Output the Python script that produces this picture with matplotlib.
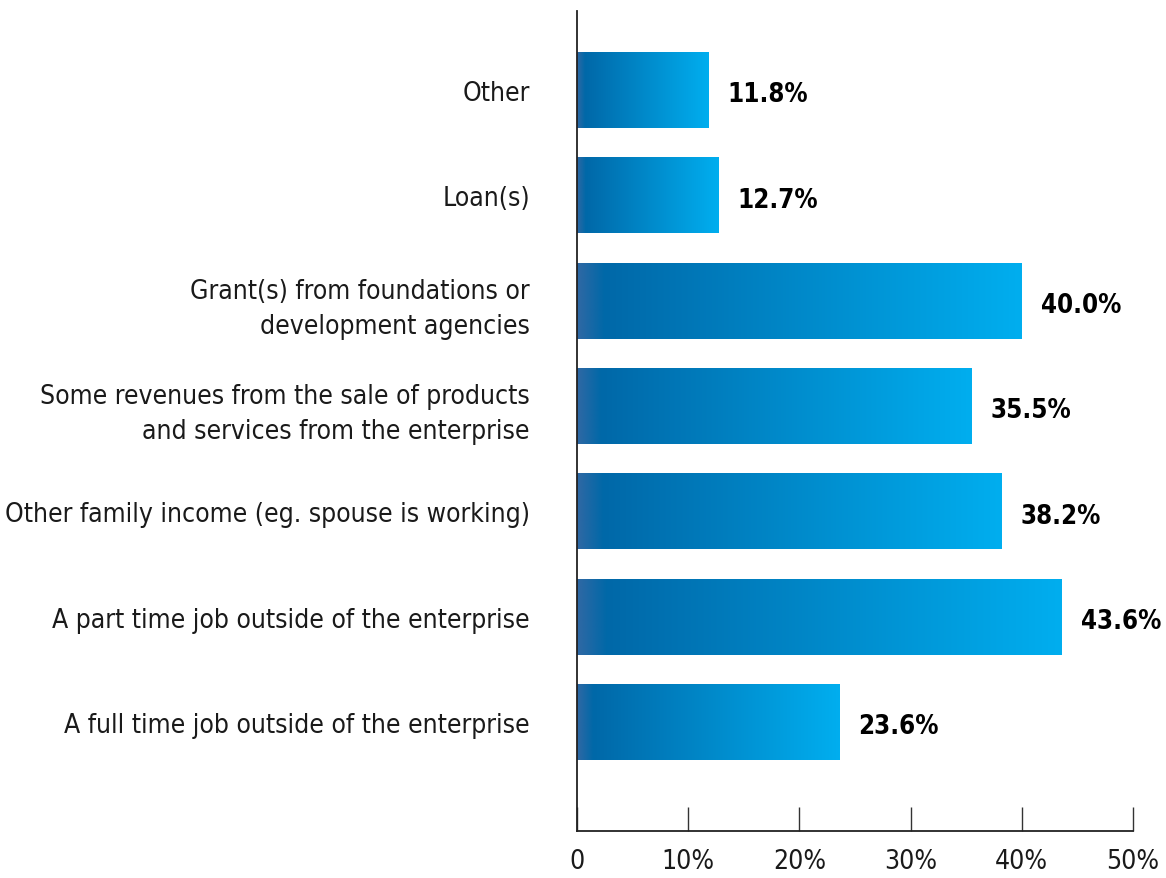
import numpy as np
import matplotlib.pyplot as plt
from matplotlib.colors import LinearSegmentedColormap

# data, bottom to top
labels = ['A full time job outside of the enterprise',
          'A part time job outside of the enterprise',
          'Other family income (eg. spouse is working)',
          'Some revenues from the sale of products\nand services from the enterprise',
          'Grant(s) from foundations or\ndevelopment agencies',
          'Loan(s)',
          'Other']
values = [23.6, 43.6, 38.2, 35.5, 40.0, 12.7, 11.8]
xticks = [0, 10, 20, 30, 40, 50]
xticklabels = ['0', '10%', '20%', '30%', '40%', '50%']

plt.rcParams['font.family'] = ['DejaVu Sans']
plt.rcParams['font.stretch'] = 'condensed'

cmap = LinearSegmentedColormap.from_list(
    'bar', [(0.0, '#2f68a4'), (0.06, '#0068a8'), (1.0, '#00aeef')])
grad = np.linspace(0, 1, 256).reshape(1, -1)

fig = plt.figure(figsize=(11.66, 8.79), dpi=100)
ax = fig.add_axes([0.4949, 0.0535, 0.4768, 0.9328])

h = 0.72
for i, v in enumerate(values):
    ax.imshow(grad, cmap=cmap, aspect='auto', interpolation='bilinear',
              extent=[0, v, i - h / 2, i + h / 2], zorder=2)
    ax.text(v + 1.7, i - 0.04, '%.1f%%' % v, va='center', ha='left',
            fontsize=18.5, fontweight='bold', color='black')

ax.set_xlim(0, 50)
ax.set_ylim(-1.035, 6.75)
ax.set_yticks(range(len(labels)))
ax.set_yticklabels(labels, fontsize=19, color='#1a1a1a')
ax.tick_params(axis='y', length=0, pad=34)
ax.set_xticks(xticks)
ax.set_xticklabels(xticklabels, fontsize=19, color='#1a1a1a')
ax.tick_params(axis='x', direction='in', length=17, width=1, color='#333333', pad=12)
for lab in ax.get_yticklabels():
    lab.set_multialignment('right')
    lab.set_linespacing(1.45)

for s in ['top', 'right']:
    ax.spines[s].set_visible(False)
ax.spines['left'].set_color('#222222')
ax.spines['bottom'].set_color('#222222')
ax.spines['left'].set_linewidth(1.3)
ax.spines['bottom'].set_linewidth(1.3)

plt.savefig('out.png', dpi=100)
